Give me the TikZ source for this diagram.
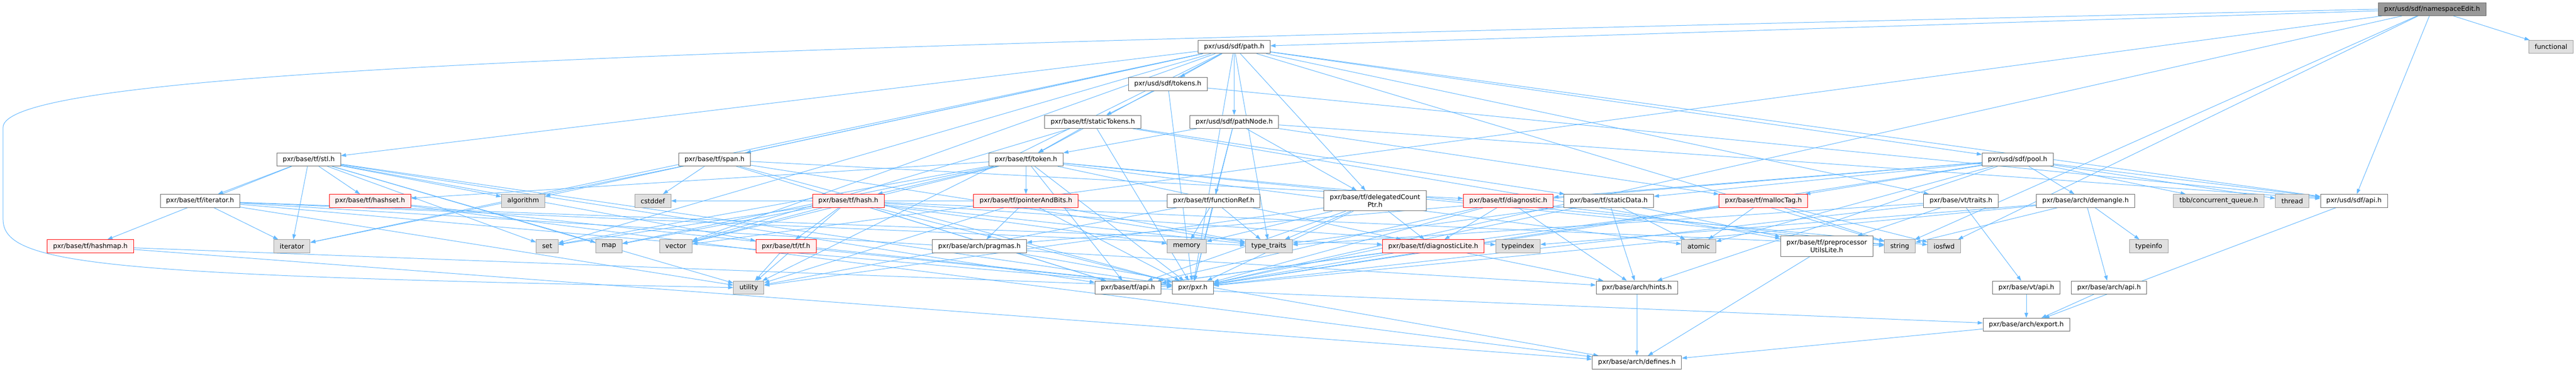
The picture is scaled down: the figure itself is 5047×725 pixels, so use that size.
\documentclass[tikz,border=0pt]{standalone}
\usepackage{fontspec}
\setmainfont{DejaVu Sans}
\usetikzlibrary{arrows.meta}

\pgfdeclarelayer{edgelayer}
\pgfsetlayers{edgelayer,main}

\definecolor{edgeblue}{HTML}{63B8FF}
\definecolor{boxgray}{HTML}{666666}
\definecolor{extfill}{HTML}{E0E0E0}
\definecolor{extline}{HTML}{999999}
\definecolor{redfill}{HTML}{FFF0F0}
\definecolor{rootfill}{HTML}{999999}

\tikzset{
  filebox/.style={draw=boxgray, fill=white, line width=1pt, minimum height=25.6pt,
    inner xsep=11.5pt, inner ysep=2pt, text=black, font=\fontsize{12.85pt}{15pt}\selectfont},
  extbox/.style={filebox, draw=extline, fill=extfill},
  redbox/.style={filebox, draw=red, fill=redfill},
  rootbox/.style={filebox, fill=rootfill},
  twoline/.style={align=center, minimum height=39.5pt},
  incl/.style={draw=edgeblue, line width=1pt, -{Triangle[length=10pt,width=7pt]}},
}

\begin{document}
\begin{tikzpicture}[x=1pt,y=1pt]
\useasboundingbox (0,0) rectangle (5047,-725);

\node[rootbox] (ne) at (4765,-18) {pxr/usd/sdf/namespaceEdit.h};
\node[extbox] (functional) at (4998,-92) {functional};
\node[filebox] (path) at (2418,-92) {pxr/usd/sdf/path.h};
\node[filebox] (sdftokens) at (2288,-165) {pxr/usd/sdf/tokens.h};
\node[filebox] (stattok) at (2141,-239) {pxr/base/tf/staticTokens.h};
\node[filebox] (pathnode) at (2418,-239) {pxr/usd/sdf/pathNode.h};
\node[filebox] (stl) at (605,-313) {pxr/base/tf/stl.h};
\node[filebox] (span) at (1400,-313) {pxr/base/tf/span.h};
\node[filebox] (token) at (2010,-313) {pxr/base/tf/token.h};
\node[filebox] (pool) at (3953,-313) {pxr/usd/sdf/pool.h};
\node[filebox] (iterh) at (392,-394) {pxr/base/tf/iterator.h};
\node[redbox] (hashset) at (725,-394) {pxr/base/tf/hashset.h};
\node[extbox] (algorithm) at (1025,-394) {algorithm};
\node[extbox] (cstddef) at (1279,-394) {cstddef};
\node[redbox] (hash) at (1662,-394) {pxr/base/tf/hash.h};
\node[redbox] (pab) at (2010,-394) {pxr/base/tf/pointerAndBits.h};
\node[filebox] (funcref) at (2378,-394) {pxr/base/tf/functionRef.h};
\node[filebox, twoline] (dcp) at (2694,-394) {pxr/base/tf/delegatedCount\\Ptr.h};
\node[redbox] (diag) at (2955,-394) {pxr/base/tf/diagnostic.h};
\node[filebox] (statdata) at (3152,-394) {pxr/base/tf/staticData.h};
\node[redbox] (malloctag) at (3455,-394) {pxr/base/tf/mallocTag.h};
\node[filebox] (vttraits) at (3842,-394) {pxr/base/vt/traits.h};
\node[filebox] (demangle) at (4086,-394) {pxr/base/arch/demangle.h};
\node[extbox] (tbbq) at (4347,-394) {tbb/concurrent\_queue.h};
\node[extbox] (thread) at (4491,-394) {thread};
\node[filebox] (sdfapi) at (4612,-394) {pxr/usd/sdf/api.h};
\node[redbox] (hashmap) at (177,-483) {pxr/base/tf/hashmap.h};
\node[extbox] (iterator) at (572,-483) {iterator};
\node[extbox] (set) at (1072,-483) {set};
\node[extbox] (map) at (1193,-483) {map};
\node[extbox] (vector) at (1324,-483) {vector};
\node[redbox] (tfh) at (1540,-483) {pxr/base/tf/tf.h};
\node[filebox] (pragmas) at (1919,-483) {pxr/base/arch/pragmas.h};
\node[extbox] (memory) at (2325,-483) {memory};
\node[extbox] (typetraits) at (2486,-483) {type\_traits};
\node[redbox] (diaglite) at (2808,-483) {pxr/base/tf/diagnosticLite.h};
\node[extbox] (typeindex) at (2974,-483) {typeindex};
\node[extbox] (atomic) at (3328,-483) {atomic};
\node[filebox, twoline] (pputil) at (3579,-483) {pxr/base/tf/preprocessor\\UtilsLite.h};
\node[extbox] (string) at (3722,-483) {string};
\node[extbox] (iosfwd) at (3809,-483) {iosfwd};
\node[extbox] (typeinfo) at (4210,-483) {typeinfo};
\node[extbox] (utility) at (1467,-564) {utility};
\node[filebox] (tfapi) at (2210,-564) {pxr/base/tf/api.h};
\node[filebox] (pxr) at (2337,-564) {pxr/pxr.h};
\node[filebox] (hints) at (3207,-564) {pxr/base/arch/hints.h};
\node[filebox] (vtapi) at (3970,-564) {pxr/base/vt/api.h};
\node[filebox] (archapi) at (4132,-564) {pxr/base/arch/api.h};
\node[filebox] (export) at (3970,-637) {pxr/base/arch/export.h};
\node[filebox] (defines) at (3207,-711) {pxr/base/arch/defines.h};

\begin{pgfonlayer}{edgelayer}
\fill[white] (0,0) rectangle (5047,-725);
\draw[incl] (ne) -- (path);
\draw[incl] (ne) -- (sdfapi);
\draw[incl] (ne) -- (pxr);
\draw[incl] (ne) -- (functional);
\draw[incl] (ne) -- (iosfwd);
\draw[incl] (ne) -- (string);
\draw[incl] (ne) -- (vector);
\draw[incl] (ne.west) .. controls (1500,-90) and (6,-130) .. (6,-250) -- (6,-430)
  .. controls (6,-520) and (200,-540) .. (utility.west);
\draw[incl] (path) -- (pxr);
\draw[incl] (path) -- (sdfapi);
\draw[incl] (path) -- (pool);
\draw[incl] (path) -- (sdftokens);
\draw[incl] (path) -- (pathnode);
\draw[incl] (path) -- (span);
\draw[incl] (path) -- (stl);
\draw[incl] (path) -- (token);
\draw[incl] (path) -- (vttraits);
\draw[incl] (path) -- (dcp);
\draw[incl] (path) -- (algorithm);
\draw[incl] (path) -- (iterator);
\draw[incl] (path) -- (set);
\draw[incl] (path) -- (string);
\draw[incl] (path) -- (typetraits);
\draw[incl] (path) -- (utility);
\draw[incl] (path) -- (vector);
\draw[incl] (sdftokens) -- (stattok);
\draw[incl] (sdftokens) -- (pxr);
\draw[incl] (sdftokens) -- (sdfapi);
\draw[incl] (stattok) -- (token);
\draw[incl] (stattok) -- (pxr);
\draw[incl] (stattok) -- (vector);
\draw[incl] (stattok) -- (statdata);
\draw[incl] (stattok) -- (pputil);
\draw[incl] (pathnode) -- (token);
\draw[incl] (pathnode) -- (pxr);
\draw[incl] (pathnode) -- (funcref);
\draw[incl] (pathnode) -- (dcp);
\draw[incl] (pathnode) -- (malloctag);
\draw[incl] (pathnode) -- (sdfapi);
\draw[incl] (stl) -- (pxr);
\draw[incl] (stl) -- (tfapi);
\draw[incl] (stl) -- (tfh);
\draw[incl] (stl) -- (hashmap);
\draw[incl] (stl) -- (hashset);
\draw[incl] (stl) -- (iterh);
\draw[incl] (stl) -- (iterator);
\draw[incl] (stl) -- (algorithm);
\draw[incl] (stl) -- (map);
\draw[incl] (stl) -- (set);
\draw[incl] (stl) -- (utility);
\draw[incl] (iterh) -- (iterator);
\draw[incl] (iterh) -- (hints);
\draw[incl] (iterh) -- (diaglite);
\draw[incl] (iterh) -- (typetraits);
\draw[incl] (iterh) -- (utility);
\draw[incl] (iterh) -- (pxr);
\draw[incl] (hashset) -- (pxr);
\draw[incl] (hashset) -- (defines);
\draw[incl] (hashmap) -- (pxr);
\draw[incl] (hashmap) -- (defines);
\draw[incl] (span) -- (pxr);
\draw[incl] (span) -- (tfapi);
\draw[incl] (span) -- (diag);
\draw[incl] (span) -- (cstddef);
\draw[incl] (span) -- (iterator);
\draw[incl] (span) -- (typetraits);
\draw[incl] (token) -- (pxr);
\draw[incl] (token) -- (tfapi);
\draw[incl] (token) -- (diaglite);
\draw[incl] (token) -- (hash);
\draw[incl] (token) -- (hashset);
\draw[incl] (token) -- (pab);
\draw[incl] (token) -- (atomic);
\draw[incl] (token) -- (iosfwd);
\draw[incl] (token) -- (string);
\draw[incl] (token) -- (vector);
\draw[incl] (token) -- (map);
\draw[incl] (token) -- (set);
\draw[incl] (hash) -- (pxr);
\draw[incl] (hash) -- (tfh);
\draw[incl] (hash) -- (tfapi);
\draw[incl] (hash) -- (map);
\draw[incl] (hash) -- (set);
\draw[incl] (hash) -- (memory);
\draw[incl] (hash) -- (string);
\draw[incl] (hash) -- (typeindex);
\draw[incl] (hash) -- (typetraits);
\draw[incl] (hash) -- (utility);
\draw[incl] (hash) -- (vector);
\draw[incl] (tfh) -- (pxr);
\draw[incl] (tfh) -- (utility);
\draw[incl] (pab) -- (pragmas);
\draw[incl] (pab) -- (pxr);
\draw[incl] (pab) -- (typetraits);
\draw[incl] (pab) -- (utility);
\draw[incl] (pragmas) -- (defines);
\draw[incl] (funcref) -- (pxr);
\draw[incl] (funcref) -- (memory);
\draw[incl] (funcref) -- (typetraits);
\draw[incl] (funcref) -- (cstddef);
\draw[incl] (funcref) -- (utility);
\draw[incl] (dcp) -- (pxr);
\draw[incl] (dcp) -- (tfapi);
\draw[incl] (dcp) -- (diaglite);
\draw[incl] (dcp) -- (memory);
\draw[incl] (dcp) -- (typetraits);
\draw[incl] (dcp) -- (utility);
\draw[incl] (diag) -- (pxr);
\draw[incl] (diag) -- (tfapi);
\draw[incl] (diag) -- (diaglite);
\draw[incl] (diag) -- (hints);
\draw[incl] (diag) -- (string);
\draw[incl] (diaglite) -- (pxr);
\draw[incl] (diaglite) -- (tfapi);
\draw[incl] (diaglite) -- (hints);
\draw[incl] (statdata) -- (pxr);
\draw[incl] (statdata) -- (pputil);
\draw[incl] (statdata) -- (hints);
\draw[incl] (statdata) -- (atomic);
\draw[incl] (statdata) -- (typetraits);
\draw[incl] (malloctag) -- (pxr);
\draw[incl] (malloctag) -- (tfapi);
\draw[incl] (malloctag) -- (atomic);
\draw[incl] (malloctag) -- (string);
\draw[incl] (malloctag) -- (iosfwd);
\draw[incl] (vttraits) -- (pxr);
\draw[incl] (vttraits) -- (vtapi);
\draw[incl] (vttraits) -- (pputil);
\draw[incl] (vttraits) -- (typetraits);
\draw[incl] (demangle) -- (pxr);
\draw[incl] (demangle) -- (archapi);
\draw[incl] (demangle) -- (string);
\draw[incl] (demangle) -- (typeinfo);
\draw[incl] (demangle) -- (typeindex);
\draw[incl] (pool) -- (pxr);
\draw[incl] (pool) -- (sdfapi);
\draw[incl] (pool) -- (demangle);
\draw[incl] (pool) -- (hints);
\draw[incl] (pool) -- (pragmas);
\draw[incl] (pool) -- (diag);
\draw[incl] (pool) -- (statdata);
\draw[incl] (pool) -- (malloctag);
\draw[incl] (pool) -- (tbbq);
\draw[incl] (pool) -- (thread);
\draw[incl] (pool) -- (atomic);
\draw[incl] (tfapi) -- (export);
\draw[incl] (vtapi) -- (export);
\draw[incl] (archapi) -- (export);
\draw[incl] (sdfapi) -- (export);
\draw[incl] (export) -- (defines);
\draw[incl] (hints) -- (defines);
\draw[incl] (pputil) -- (defines);
\end{pgfonlayer}
\end{tikzpicture}
\end{document}
